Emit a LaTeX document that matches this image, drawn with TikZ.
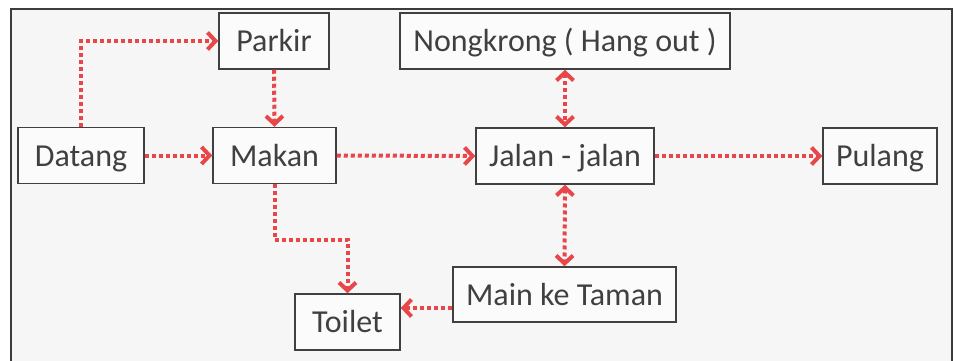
\documentclass[tikz,border=0pt]{standalone}
\usepackage{fontspec}
\setmainfont{Carlito}
\usetikzlibrary{arrows.meta}
\definecolor{flow}{RGB}{232,70,72}
\definecolor{ink}{RGB}{64,64,64}
\definecolor{frameline}{RGB}{60,60,60}
\definecolor{paper}{RGB}{246,246,246}
\begin{document}
\begin{tikzpicture}[x=1pt,y=-1pt,
  stage/.style={draw=ink, line width=1.5pt, fill=white!60!paper, text=ink,
    font=\fontsize{32}{38}\selectfont, inner sep=0pt,
    minimum height=56pt, text height=21pt, text depth=0pt},
  link/.style={draw=flow, line width=4pt, dash pattern=on 4pt off 3pt,
    >={Straight Barb[length=8pt,width=17pt,line cap=butt]}}
]
% canvas and outer frame (open at the bottom)
\useasboundingbox (0,0) rectangle (954,361);
\fill[white] (0,0) rectangle (954,361);
\fill[paper] (11,9) rectangle (952,361);
\draw[frameline, line width=1.6pt] (11,361) -- (11,9) -- (952,9) -- (952,361);

% activity boxes
\node[stage, minimum width=126pt] (datang) at (81,155.5) {Datang};
\node[stage, minimum width=110pt] (parkir) at (274,41) {Parkir};
\node[stage, minimum width=123pt] (makan) at (274.5,155.5) {Makan};
\node[stage, minimum width=330pt] (nongkrong) at (565,41) {Nongkrong ( Hang out )};
\node[stage, minimum width=178pt] (jalan) at (565,156) {Jalan - jalan};
\node[stage, minimum width=114pt] (pulang) at (880,156) {Pulang};
\node[stage, minimum width=223pt, minimum height=55pt] (taman) at (564.5,294.5) {Main ke Taman};
\node[stage, minimum width=105pt] (toilet) at (347.5,322) {Toilet};

% flow between activities
\draw[link,->] (datang.north) |- (parkir.west);
\draw[link,->] (parkir.south) -- (makan.north);
\draw[link,->] (datang.east) -- (makan.west);
\draw[link,->] (makan.east) -- (jalan.west);
\draw[link,<->] (nongkrong.south) -- (jalan.north);
\draw[link,->] (jalan.east) -- (pulang.west);
\draw[link,<->] (jalan.south) -- (taman.north);
\draw[link,->] (makan.south) -- (makan.south |- 0,240) -| (toilet.north);
\draw[link,->] (taman.west |- 0,308) -- (toilet.east |- 0,308);
\end{tikzpicture}
\end{document}
